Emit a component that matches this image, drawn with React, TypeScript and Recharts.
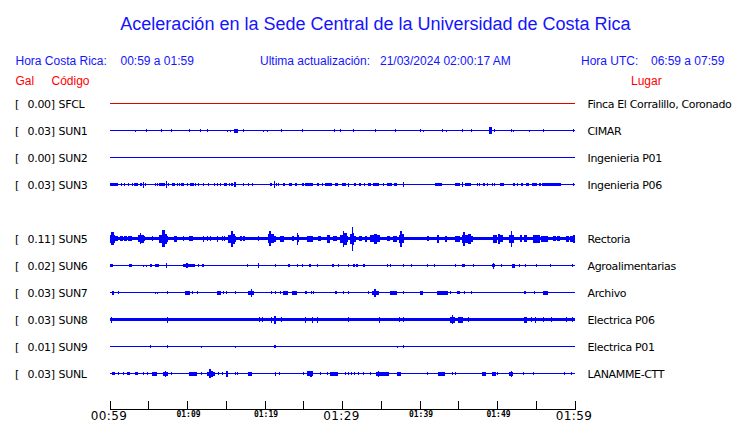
import { ComposedChart, Area, Line, XAxis, YAxis } from "recharts";

// one trace per station, top to bottom (SUN4 has no data in this window)
const codes = ["SFCL", "SUN1", "SUN2", "SUN3", "SUN4", "SUN5", "SUN6", "SUN7", "SUN8", "SUN9", "SUNL"];
const peakGal: (number | null)[] = [0.0, 0.03, 0.0, 0.03, null, 0.11, 0.02, 0.03, 0.03, 0.01, 0.03];
const places = [
  "Finca El Corralillo, Coronado",
  "CIMAR",
  "Ingenieria P01",
  "Ingenieria P06",
  "",
  "Rectoria",
  "Agroalimentarias",
  "Archivo",
  "Electrica P06",
  "Electrica P01",
  "LANAMME-CTT",
];
// background noise band (trace units)
const noiseFloor = [0, 0, 0, 0, 0, 1.7, 0, 0, 1.8, 0, 0];

// bursts: [minute, half amplitude (trace units), duration in minutes]
type Burst = [number, number, number?];

const sfclBursts: Burst[] = [];
const sun1Bursts: Burst[] = [
  [3.26, 1], [4.68, 1.5], [6.62, 1.5], [7.91, 1.5], [10.23, 1.5], [11.55, 1.5, 0.25], [12.55, 1.5],
  [15.14, 1], [15.52, 1], [15.96, 2, 0.52], [17.2, 1.5], [19.78, 1], [20.3, 1], [22.0, 1.5, 0.25],
  [24.74, 1.5], [28.94, 1.5], [29.72, 1.5], [31.39, 1.5], [34.23, 1.5], [36.81, 1.5], [40.04, 1.5],
  [40.43, 1], [42.88, 1.5], [43.39, 1], [45.46, 1.5], [46.62, 1.5], [48.9, 3.5, 0.4], [49.59, 1.5],
  [51.78, 1.5], [52.0, 1], [54.1, 1], [55.91, 1.5], [59.78, 1.5],
];
const sun2Bursts: Burst[] = [];
const sun3Bursts: Burst[] = [
  [0, 1.7, 1.0], [1.42, 1.3], [1.85, 1.3], [2.37, 1.3], [2.8, 1.3], [3.14, 1.7, 0.52], [3.87, 1.7, 0.3],
  [4.3, 3], [4.52, 1.3], [5.81, 1.3], [6.02, 1.3], [6.32, 1.7, 0.77], [7.25, 3.3, 0.15], [7.53, 1.3],
  [7.96, 1.7, 0.43], [8.69, 1.3], [8.9, 1.3], [9.2, 1.7, 0.3], [9.89, 1.3], [10.37, 1.7, 0.43],
  [10.97, 1.3], [11.31, 1.3], [12.04, 1.3], [12.69, 1.3], [13.46, 1.3], [13.81, 1.3], [14.15, 1.3],
  [14.67, 1.7, 0.39], [15.35, 1.3], [15.61, 1.7, 0.3], [16.05, 2.7, 0.2], [17.2, 1.3], [17.85, 1.3],
  [18.28, 1.3], [20.6, 1.7, 0.26], [21.15, 3.3, 0.15], [21.38, 1.3], [21.72, 1.3], [22.28, 1.7, 0.3],
  [23.1, 1.7, 0.34], [23.87, 1.7, 0.3], [24.73, 1.7, 0.3], [25.16, 1.7, 0.99], [26.67, 1.3],
  [26.88, 1.3], [27.31, 1.3], [27.74, 1.7, 0.86], [29.03, 1.7, 0.43], [29.89, 1.7, 0.56], [30.7, 2, 0.15],
  [31.48, 1.7, 0.26], [32.17, 1.7, 0.17], [32.77, 1.3], [33.33, 1.7, 0.34], [33.89, 1.7, 0.86],
  [35.18, 1.3], [35.78, 1.7, 0.56], [36.65, 1.7, 0.34], [37.8, 2.7, 0.15], [39.57, 0.7],
  [41.94, 1.7, 0.86], [44.52, 1.7, 0.65], [45.4, 2.5, 0.15], [45.81, 1.7, 0.73], [47.31, 1.3],
  [47.66, 1.3], [48.09, 1.7, 0.34], [48.69, 1.3], [49.25, 1.3], [49.55, 1.3], [50.32, 1.7, 0.52],
  [51.96, 1.7, 0.26], [52.47, 1.3], [53.03, 1.7, 0.26], [53.68, 1.7, 0.34], [54.41, 1.7, 0.65],
  [55.4, 1.7, 0.26], [55.72, 1.7, 1.8], [57.28, 1.3], [57.71, 1.7, 0.47], [59.78, 1.3],
];
const sun4Bursts: Burst[] = [];
const sun5Bursts: Burst[] = [
  [0, 4, 0.13], [0.13, 6.7, 0.4], [0.53, 4, 0.12], [0.65, 2.5, 0.43], [1.29, 2.5, 0.34], [1.81, 2.5, 0.34],
  [2.37, 2.5, 0.43], [3.66, 3.5, 0.2], [3.86, 5.7, 0.2], [4.06, 4, 0.3], [4.36, 2.8, 0.16], [5.38, 2.5],
  [6.37, 4, 0.3], [6.67, 8.7, 0.43], [7.1, 5, 0.25], [7.35, 3, 0.18], [8.26, 3, 0.34], [9.46, 2.5],
  [10.24, 2.5, 0.43], [11.96, 3], [12.47, 2.5], [12.9, 2.5], [13.76, 3], [14.45, 2.5], [14.71, 2.5],
  [15.27, 4, 0.3], [15.57, 8, 0.3], [15.87, 5, 0.25], [16.12, 3, 0.14], [16.77, 2.5, 0.3], [17.2, 2.5, 0.25],
  [19.14, 2.5], [20.43, 4.5, 0.15], [20.58, 7.5, 0.25], [20.83, 4.5, 0.35], [21.18, 3, 0.24],
  [21.94, 3, 0.52], [23.44, 2.5, 0.3], [24.09, 6, 0.2], [24.29, 3.5, 0.14], [25.38, 3, 0.86],
  [26.88, 2.5, 0.3], [27.96, 4, 0.43], [28.82, 2.5, 0.52], [29.7, 4, 0.3], [30.0, 8, 0.25], [30.25, 6, 0.3],
  [30.55, 3, 0.2], [30.97, 5, 0.2], [31.17, 12, 0.22], [31.39, 6, 0.15], [31.54, 3, 0.15], [32.17, 2.5, 0.3],
  [32.9, 3, 0.2], [33.55, 3.5, 0.5], [34.1, 5, 0.35], [34.45, 3.5, 0.4], [35.7, 2.5, 0.43], [36.56, 3, 0.43],
  [37.33, 4, 0.15], [37.48, 8, 0.2], [37.68, 4.5, 0.26], [40.9, 2.5, 0.26], [42.15, 4, 0.26],
  [43.23, 3, 0.3], [44.52, 3, 0.65], [45.42, 4, 0.15], [45.57, 7, 0.3], [45.87, 4, 0.35], [46.22, 5, 0.4],
  [46.62, 3, 0.26], [49.46, 4, 0.43], [50.11, 5, 0.25], [50.36, 3.5, 0.4], [51.53, 4, 0.2], [51.73, 8, 0.2],
  [51.93, 4, 0.2], [52.9, 3.5, 0.3], [53.4, 3.5, 0.36], [54.62, 4, 0.86], [55.6, 3, 0.96], [57.2, 2.5, 0.3],
  [57.7, 2.5, 0.36], [58.9, 3, 0.3], [59.4, 3, 0.3], [59.78, 4, 0.22],
];
const sun6Bursts: Burst[] = [
  [0, 1.7, 0.43], [2.45, 1.7, 0.34], [4.3, 1], [4.6, 1], [5.16, 1.7, 0.2], [5.81, 1.7, 0.56], [7.25, 2.5, 0.15],
  [9.46, 1.7, 0.35], [9.81, 2.7, 0.2], [10.01, 1.7, 0.96], [11.31, 1.5], [11.91, 1.7, 0.2], [15.35, 0.7],
  [17.63, 1.7, 0.2], [19.1, 2.5, 0.18], [21.29, 1.3], [23.0, 1.7, 0.2], [24.09, 1.3], [24.82, 1.3],
  [25.72, 1.7, 0.2], [26.67, 1.7, 0.2], [28.6, 1.7, 0.26], [29.38, 1.3], [30.75, 1.3], [31.4, 1.7, 0.2],
  [31.8, 1.7, 0.2], [32.69, 1.7, 0.26], [35.7, 1.7, 0.2], [36.1, 1.7, 0.2], [37.76, 1.3], [38.84, 1.3],
  [40.86, 1.3], [41.85, 1.3], [44.56, 1.3], [45.42, 1.7, 0.43], [46.8, 1.7, 0.2], [49.25, 1.7, 0.15],
  [49.4, 3, 0.15], [49.55, 1.7, 0.13], [50.45, 1.3], [51.91, 2, 0.3], [52.73, 1.3], [53.5, 1.3],
  [54.92, 1.3], [56.77, 1.5], [59.57, 1.7, 0.2],
];
const sun7Bursts: Burst[] = [
  [0.2, 2, 0.34], [1.0, 1.3], [4.3, 0.8], [5.81, 1], [6.02, 1], [7.31, 1.3], [9.68, 2, 0.65], [10.54, 1.3],
  [11.27, 1.3], [13.81, 2, 0.52], [14.62, 1.3], [14.97, 1.3], [16.13, 1.3], [17.85, 2, 0.3], [18.15, 4, 0.2],
  [18.35, 2, 0.23], [20.77, 1.3], [21.29, 1.3], [21.98, 1.3], [22.37, 2, 0.56], [23.53, 2, 0.56],
  [25.16, 1.7, 0.2], [25.94, 1.3], [26.2, 1.3], [29.03, 1.7, 0.2], [30.11, 1.3], [30.75, 1.3], [33.33, 1.3],
  [33.85, 2, 0.25], [34.1, 4, 0.25], [34.35, 2, 0.36], [36.13, 2, 0.95], [37.85, 1.3], [40.0, 2, 0.43],
  [42.15, 2, 1.5], [43.87, 1.3], [44.81, 1.7, 0.35], [45.68, 1.3], [46.54, 1.3], [48.82, 0.7],
  [53.4, 1.7, 0.34], [54.71, 1.3], [55.83, 2, 0.73],
];
const sun8Bursts: Burst[] = [
  [0.15, 3, 0.15], [7.35, 3, 0.15], [19.27, 2.5], [19.66, 2.5], [20.73, 3], [21.22, 4, 0.18], [22.0, 2.5],
  [25.2, 3, 0.15], [26.0, 3, 0.15], [26.75, 3, 0.15], [30.75, 2.5], [34.7, 3], [37.29, 2.5], [37.85, 2.5],
  [43.87, 3, 0.25], [44.12, 4.5, 0.2], [44.32, 3, 0.2], [44.9, 3, 0.7], [46.15, 2.5], [53.4, 3, 0.35],
  [54.28, 2.5], [54.84, 3], [55.91, 2.5], [56.86, 2.5], [58.8, 2.5], [59.6, 2.5],
];
const sun9Bursts: Burst[] = [
  [5.2, 1.5], [7.4, 1.5], [11.7, 1], [16.17, 1], [21.22, 1.7, 0.2], [37.07, 1], [37.85, 1.5],
];
const sunlBursts: Burst[] = [
  [0.2, 1.7, 0.43], [1.0, 1.3], [1.72, 1.3], [2.24, 1.7, 0.34], [3.23, 1.7, 0.43], [4.3, 1.3], [4.73, 1.3],
  [5.46, 2, 0.65], [6.88, 2, 0.2], [7.08, 3, 0.2], [7.28, 2, 0.25], [7.83, 1.3], [8.39, 0.8], [10.19, 2, 0.99],
  [11.74, 1.3], [12.47, 2, 0.35], [12.82, 4.5, 0.25], [13.07, 3, 0.2], [13.27, 2, 0.28], [13.89, 1.3],
  [14.41, 1.3], [14.92, 3, 0.26], [16.13, 1.3], [16.43, 1.3], [17.85, 2, 0.43], [20.43, 0.8], [21.29, 2],
  [21.85, 1.3], [24.86, 1.3], [25.38, 2.5, 0.43], [25.81, 3, 0.2], [26.01, 2.5, 0.23], [27.1, 1.3],
  [28.04, 1.3], [28.39, 2, 1.07], [30.32, 1.3], [30.75, 1.3], [31.05, 1.3], [31.48, 1.3], [32.04, 1.3],
  [32.69, 1.3], [33.55, 1.3], [34.32, 2, 0.2], [34.52, 3, 0.2], [34.72, 2, 1.28], [36.99, 2, 0.52],
  [38.71, 0.8], [40.86, 1.3], [42.37, 2, 0.86], [44.09, 1.3], [44.47, 1.3], [46.67, 0.8], [47.96, 2, 0.56],
  [49.25, 2, 0.52], [49.98, 1.3], [51.53, 2, 0.2], [51.73, 3, 0.15], [51.88, 2, 0.17], [53.25, 1.3],
  [54.54, 1.3], [58.58, 1.3], [59.48, 1.3],
];

const stationBursts = [
  sfclBursts, sun1Bursts, sun2Bursts, sun3Bursts, sun4Bursts, sun5Bursts,
  sun6Bursts, sun7Bursts, sun8Bursts, sun9Bursts, sunlBursts,
];

const timeTicks = [0, 5, 10, 15, 20, 25, 30, 35, 40, 45, 50, 55, 60];
const timeLabels = ["00:59", "01:09", "01:19", "01:29", "01:39", "01:49", "01:59"];

const ROW_GAP = 27;
const SPIKE = 0.14;
const WINDOW = 60;
const BLUE = "#0000ff";
const RED = "#e00000";
const TXT_BLUE = "#1414ff";

function traceData(bursts: Burst[], row: number, noise: number) {
  const y = row * ROW_GAP;
  const base = [y - noise, y + noise];
  const pts: { t: number; r: number[] }[] = [{ t: 0, r: base }];
  let end = 0;
  [...bursts]
    .sort((a, b) => a[0] - b[0])
    .forEach(([t, a, d]) => {
      const s = Math.max(t, end);
      const e = Math.min(WINDOW, s + (d ?? SPIKE));
      const h = Math.max(a, noise);
      pts.push({ t: s, r: base }, { t: s, r: [y - h, y + h] }, { t: e, r: [y - h, y + h] }, { t: e, r: base });
      end = e;
    });
  pts.push({ t: WINDOW, r: base });
  return pts;
}

const rows = codes.map((c, i) => i).filter((i) => peakGal[i] !== null);

const StationTick = (props: any) => {
  const { y, payload } = props;
  const i = Math.round(payload.value / ROW_GAP);
  if (peakGal[i] === null) return <g />;
  return (
    <g fontFamily="DejaVu Sans" fontSize={11} fill="#000" letterSpacing={-0.3}>
      <text x={15} y={y + 4}>[</text>
      <text x={27.5} y={y + 4}>{(peakGal[i] as number).toFixed(2)}]</text>
      <text x={58.5} y={y + 4}>{codes[i]}</text>
    </g>
  );
};

const PlaceTick = (props: any) => {
  const { y, payload } = props;
  const i = Math.round(payload.value / ROW_GAP);
  return (
    <text x={587.5} y={y + 4} fontFamily="DejaVu Sans" fontSize={11} fill="#000" letterSpacing={-0.35}>
      {places[i]}
    </text>
  );
};

const TimeTick = (props: any) => {
  const { x, y, payload } = props;
  const m = payload.value as number;
  const label = m % 10 === 0 ? timeLabels[m / 10] : null;
  const big = m % 30 === 0;
  return (
    <g>
      <line x1={x} x2={x} y1={y} y2={y - 8.5} stroke="#000" shapeRendering="crispEdges" />
      {label &&
        (big ? (
          <text x={x - 1} y={y + 10.5} textAnchor="middle" fontFamily="DejaVu Sans" fontSize={12} letterSpacing={0.4} fill="#000">
            {label}
          </text>
        ) : (
          <text x={x + 1} y={y + 7.5} textAnchor="middle" fontFamily="DejaVu Sans Mono" fontWeight="bold" fontSize={8} fill="#000">
            {label}
          </text>
        ))}
    </g>
  );
};

export default function App() {
  const head = { fontFamily: "Liberation Sans, Arial, sans-serif", fontSize: 12 };
  return (
    <div style={{ position: "absolute", left: 0, top: 0, width: 740, height: 423, background: "#fff" }}>
      <ComposedChart width={740} height={423} margin={{ top: 76.5, right: 0, bottom: 0, left: 0 }}>
        <XAxis
          dataKey="t"
          type="number"
          domain={[0, WINDOW]}
          allowDataOverflow
          ticks={timeTicks}
          interval={0}
          height={13.5}
          tickSize={0}
          tickMargin={0}
          tickLine={false}
          axisLine={{ stroke: "#000", shapeRendering: "crispEdges" }}
          tick={<TimeTick />}
        />
        <YAxis
          yAxisId="left"
          type="number"
          domain={[-ROW_GAP, 306]}
          allowDataOverflow
          reversed
          width={110}
          ticks={rows.map((i) => i * ROW_GAP)}
          interval={0}
          tickLine={false}
          axisLine={false}
          tick={<StationTick />}
        />
        <YAxis
          yAxisId="right"
          orientation="right"
          type="number"
          domain={[-ROW_GAP, 306]}
          allowDataOverflow
          reversed
          width={165}
          ticks={rows.map((i) => i * ROW_GAP)}
          interval={0}
          tickLine={false}
          axisLine={false}
          tick={<PlaceTick />}
        />
        {rows.map((i) => (
          <Line
            key={"base" + codes[i]}
            yAxisId="left"
            data={[
              { t: 0, v: i * ROW_GAP },
              { t: WINDOW, v: i * ROW_GAP },
            ]}
            dataKey="v"
            stroke={i === 0 ? RED : BLUE}
            strokeWidth={1}
            dot={false}
            activeDot={false}
            isAnimationActive={false}
            shapeRendering="crispEdges"
          />
        ))}
        {rows
          .filter((i) => stationBursts[i].length > 0 || noiseFloor[i] > 0)
          .map((i) => (
            <Area
              key={"env" + codes[i]}
              yAxisId="left"
              type="linear"
              data={traceData(stationBursts[i], i, noiseFloor[i])}
              dataKey="r"
              stroke="none"
              fill={BLUE}
              fillOpacity={1}
              dot={false}
              activeDot={false}
              isAnimationActive={false}
              shapeRendering="crispEdges"
            />
          ))}
      </ComposedChart>
      <svg width={740} height={423} style={{ position: "absolute", left: 0, top: 0, pointerEvents: "none" }}>
        <text x={375.5} y={29.5} textAnchor="middle" fill={TXT_BLUE} fontFamily="Liberation Sans, Arial, sans-serif" fontSize={18}>
          Aceleración en la Sede Central de la Universidad de Costa Rica
        </text>
        <g {...head} fill={TXT_BLUE}>
          <text x={15.5} y={65}>Hora Costa Rica:</text>
          <text x={120.5} y={65}>00:59 a 01:59</text>
          <text x={260} y={65}>Ultima actualización:</text>
          <text x={380} y={65}>21/03/2024 02:00:17 AM</text>
          <text x={581} y={65}>Hora UTC:</text>
          <text x={651} y={65}>06:59 a 07:59</text>
        </g>
        <g {...head} fill="#ff0000">
          <text x={15.5} y={85}>Gal</text>
          <text x={51.5} y={85}>Código</text>
          <text x={631} y={85}>Lugar</text>
        </g>
      </svg>
    </div>
  );
}
